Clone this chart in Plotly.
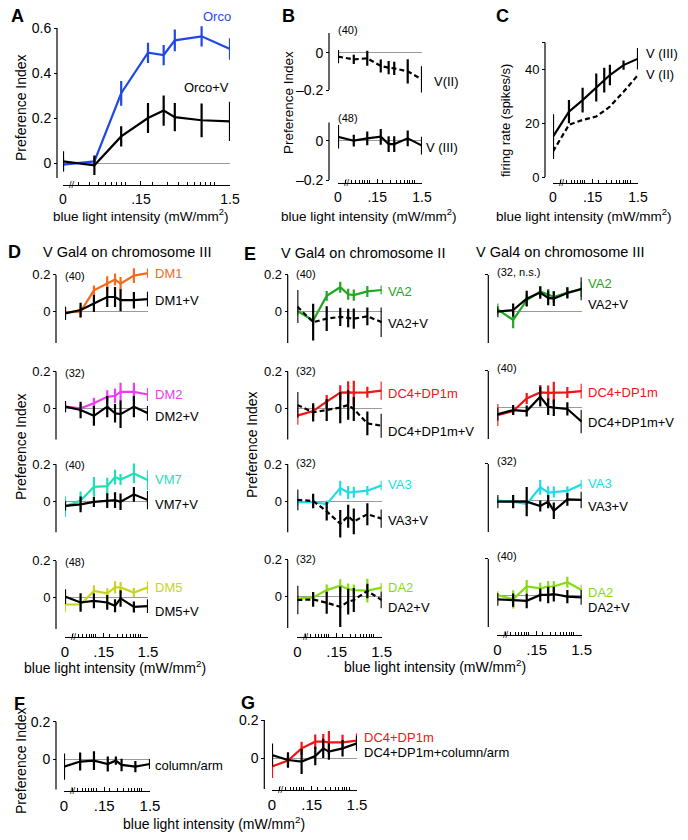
import math
import plotly.graph_objects as go

# ---------------- data ----------------
INTENSITY = [0, 0.045, 0.09, 0.18, 0.27, 0.36, 0.72, 1.5]   # mW/mm^2
ZERO_POS = 0.02   # where intensity 0 is drawn on the broken log axis

# A
ORCO_PI = [-0.007, 0.007, 0.31, 0.49, 0.48, 0.545, 0.563, 0.507]
ORCO_SEM = [0.03, 0.015, 0.055, 0.045, 0.045, 0.048, 0.045, 0.048]
ORCO_V_PI = [0.007, -0.01, 0.118, 0.2, 0.233, 0.204, 0.19, 0.185]
ORCO_V_SEM = [0.045, 0.043, 0.045, 0.067, 0.067, 0.063, 0.075, 0.087]
# B
V2_PI = [-0.021, -0.036, -0.03, -0.071, -0.08, -0.084, -0.1, -0.143]
V2_SEM = [0.035, 0.025, 0.04, 0.035, 0.035, 0.035, 0.065, 0.07]
V3_PI = [0.02, 0.0, 0.012, 0.02, -0.017, -0.017, 0.012, -0.025]
V3_SEM = [0.06, 0.03, 0.035, 0.04, 0.04, 0.04, 0.04, 0.045]
# C
V3_RATE = [15, 24.3, 28.6, 33.3, 36, 37.9, 41.6, 44]
V3_RATE_SEM = [8.3, 4.3, 4.6, 5.2, 4.6, 3.8, 1.7, 4]
V2_RATE = [9.5, 19.4, 21.2, 22.5, 24.6, 26.2, 31.7, 37.9]
# D
DM1_PI = [-0.004, 0.0, 0.116, 0.152, 0.175, 0.152, 0.196, 0.21]
DM1_SEM = [0.03, 0.03, 0.027, 0.04, 0.033, 0.036, 0.04, 0.025]
DM1_V_PI = [-0.009, 0.009, 0.045, 0.08, 0.08, 0.0625, 0.0625, 0.068]
DM1_V_SEM = [0.036, 0.04, 0.046, 0.054, 0.054, 0.06, 0.045, 0.04]
DM2_PI = [0.009, 0.0, 0.027, 0.0625, 0.068, 0.089, 0.089, 0.075]
DM2_SEM = [0.03, 0.02, 0.03, 0.036, 0.04, 0.05, 0.05, 0.036]
DM2_V_PI = [0.009, -0.009, -0.041, 0.009, -0.027, -0.032, 0.009, -0.027]
DM2_V_SEM = [0.03, 0.045, 0.054, 0.058, 0.05, 0.075, 0.058, 0.04]
VM7_PI = [-0.03, 0.002, 0.077, 0.081, 0.13, 0.117, 0.15, 0.113]
VM7_SEM = [0.055, 0.05, 0.054, 0.045, 0.04, 0.03, 0.054, 0.054]
VM7_V_PI = [-0.027, -0.018, -0.005, 0.002, 0.005, -0.004, 0.036, 0.005]
VM7_V_SEM = [0.025, 0.043, 0.027, 0.04, 0.043, 0.045, 0.04, 0.05]
DM5_PI = [-0.037, -0.037, 0.037, 0.024, 0.056, 0.056, 0.028, 0.056]
DM5_SEM = [0.04, 0.03, 0.03, 0.028, 0.033, 0.03, 0.025, 0.033]
DM5_V_PI = [0.006, -0.026, -0.017, -0.026, -0.044, -0.004, -0.05, -0.046]
DM5_V_SEM = [0.04, 0.05, 0.04, 0.04, 0.035, 0.045, 0.03, 0.037]
# E, V Gal4 on chromosome II
VA2_II_PI = [0.004, -0.048, 0.086, 0.133, 0.095, 0.09, 0.11, 0.118]
VA2_II_SEM = [0.02, 0.02, 0.027, 0.03, 0.03, 0.03, 0.03, 0.025]
VA2_II_V_PI = [0.028, -0.057, -0.038, -0.028, -0.034, -0.038, -0.025, -0.057]
VA2_II_V_SEM = [0.09, 0.1, 0.067, 0.05, 0.05, 0.055, 0.048, 0.08]
DC4_II_PI = [-0.04, -0.015, 0.036, 0.085, 0.087, 0.085, 0.087, 0.096]
DC4_II_SEM = [0.05, 0.03, 0.036, 0.04, 0.06, 0.065, 0.03, 0.05]
DC4_II_V_PI = [0.018, -0.022, -0.009, 0.004, 0.018, -0.004, -0.082, -0.095]
DC4_II_V_SEM = [0.07, 0.05, 0.06, 0.085, 0.08, 0.065, 0.065, 0.065]
VA3_II_PI = [-0.006, -0.006, -0.017, 0.07, 0.046, 0.048, 0.056, 0.085]
VA3_II_SEM = [0.02, 0.02, 0.02, 0.04, 0.035, 0.03, 0.025, 0.025]
VA3_II_V_PI = [0.006, 0.0, -0.056, -0.124, -0.083, -0.111, -0.072, -0.096]
VA3_II_V_SEM = [0.056, 0.04, 0.05, 0.075, 0.063, 0.07, 0.06, 0.05]
DA2_II_PI = [-0.011, -0.004, 0.036, 0.06, 0.042, 0.036, 0.033, 0.049]
DA2_II_SEM = [0.02, 0.02, 0.03, 0.035, 0.03, 0.03, 0.065, 0.025]
DA2_II_V_PI = [-0.018, -0.015, -0.033, -0.055, -0.027, -0.018, 0.031, -0.018]
DA2_II_V_SEM = [0.077, 0.04, 0.06, 0.11, 0.07, 0.065, 0.04, 0.045]
# E, V Gal4 on chromosome III
VA2_III_PI = [0.014, -0.045, 0.0625, 0.11, 0.093, 0.08, 0.104, 0.121]
VA2_III_SEM = [0.03, 0.045, 0.03, 0.03, 0.03, 0.03, 0.03, 0.04]
VA2_III_V_PI = [0.0, 0.009, 0.071, 0.104, 0.075, 0.071, 0.102, 0.125]
VA2_III_V_SEM = [0.03, 0.035, 0.043, 0.033, 0.04, 0.04, 0.03, 0.0625]
DC4_III_PI = [-0.04, -0.018, 0.05, 0.083, 0.081, 0.081, 0.083, 0.09]
DC4_III_SEM = [0.06, 0.02, 0.03, 0.04, 0.04, 0.06, 0.03, 0.04]
DC4_III_V_PI = [-0.036, -0.013, -0.018, 0.06, 0.005, 0.0, -0.007, -0.076]
DC4_III_V_SEM = [0.035, 0.027, 0.03, 0.054, 0.045, 0.045, 0.036, 0.063]
VA3_III_PI = [0.0, -0.005, -0.018, 0.073, 0.044, 0.047, 0.053, 0.089]
VA3_III_SEM = [0.02, 0.02, 0.02, 0.04, 0.035, 0.03, 0.025, 0.025]
VA3_III_V_PI = [-0.005, -0.005, -0.005, -0.029, -0.005, -0.055, 0.007, 0.004]
VA3_III_V_SEM = [0.036, 0.036, 0.08, 0.03, 0.036, 0.045, 0.035, 0.045]
DA2_III_PI = [0.004, -0.02, 0.05, 0.04, 0.05, 0.05, 0.073, 0.031]
DA2_III_SEM = [0.02, 0.05, 0.035, 0.03, 0.03, 0.03, 0.03, 0.03]
DA2_III_V_PI = [-0.02, -0.024, -0.028, 0.004, 0.004, 0.009, -0.005, -0.009]
DA2_III_V_SEM = [0.035, 0.036, 0.04, 0.035, 0.045, 0.04, 0.036, 0.04]
# F
COLARM_PI = [-0.039, -0.012, -0.007, -0.025, -0.007, -0.03, -0.039, -0.025]
COLARM_SEM = [0.07, 0.048, 0.05, 0.04, 0.022, 0.033, 0.03, 0.027]
# G
DC4_G_PI = [-0.043, -0.012, 0.052, 0.087, 0.087, 0.083, 0.083, 0.092]
DC4_G_SEM = [0.06, 0.03, 0.035, 0.037, 0.04, 0.06, 0.04, 0.037]
DC4_COLARM_PI = [0.017, -0.009, -0.017, 0.012, 0.052, 0.035, 0.052, 0.078]
DC4_COLARM_SEM = [0.06, 0.04, 0.065, 0.048, 0.05, 0.043, 0.043, 0.04]

X_TICKS = [ZERO_POS, 0.15, 1.5]
X_TICKTEXT = ["0", ".15", "1.5"]
X_MINOR = [0.03, 0.04, 0.05, 0.06, 0.07, 0.08, 0.09, 0.1,
           0.2, 0.3, 0.4, 0.5, 0.6, 0.7, 0.8, 0.9, 1.0]

# ---------------- style ----------------
W, H = 688, 840
FONT = "Liberation Sans, Arial, sans-serif"
BLUE = "#1f48e6"
ORANGE = "#f26a1c"
MAGENTA = "#ee3cee"
TURQ = "#1fe0b4"
YELLOW = "#c9d41e"
GREEN = "#22a722"
RED = "#f01414"
CYAN = "#22dbe6"
LIME = "#86dc12"
BLACK = "#000000"

XPOS = [ZERO_POS if v == 0 else v for v in INTENSITY]

fig = go.Figure()
axes = {}
shapes = []
annotations = []
count = [0]


def xp(px):
    return px / W


def yp(py):
    return 1 - py / H


def ann(text, x, y, size=13, color=BLACK, xanchor="left", bold=False, angle=0):
    if bold:
        text = "<b>" + text + "</b>"
    annotations.append(dict(text=text, x=xp(x), y=yp(y), xref="paper", yref="paper",
                            xanchor=xanchor, yanchor="middle", showarrow=False,
                            borderpad=0, textangle=angle,
                            font=dict(size=size, color=color, family=FONT)))


def panel(yaxis_px, x0, x1, zero_px, ppu, line_lo, line_hi, rng, yticks, yticktext,
          xaxis_px=None, yzero=True, ytsize=13, xtsize=15, yminor=None):
    count[0] += 1
    i = count[0]
    s = "" if i == 1 else str(i)
    lo, hi = rng
    top = zero_px - hi * ppu
    bot = zero_px - lo * ppu
    xa = dict(type="log", range=[math.log10(ZERO_POS), math.log10(1.5)],
              domain=[xp(x0), xp(x1)], anchor="free",
              position=yp(xaxis_px) if xaxis_px is not None else 0,
              visible=xaxis_px is not None, showgrid=False, zeroline=False,
              showline=True, linecolor=BLACK, linewidth=1.2,
              ticks="inside", ticklen=4, tickwidth=1, tickcolor=BLACK,
              tickmode="array", tickvals=X_TICKS, ticktext=X_TICKTEXT,
              ticklabelstandoff=1,
              minor=dict(tickmode="array", tickvals=X_MINOR, ticks="inside",
                         ticklen=3, tickwidth=1, tickcolor=BLACK, showgrid=False),
              tickfont=dict(size=xtsize, color=BLACK, family=FONT), automargin=False)
    ya = dict(range=[lo, hi], domain=[yp(bot), yp(top)], anchor="free",
              position=xp(yaxis_px), showline=False, showgrid=False,
              zeroline=yzero, zerolinecolor="#9a9a9a", zerolinewidth=1,
              ticks="outside", ticklen=3, tickwidth=1, tickcolor=BLACK,
              tickmode="array", tickvals=yticks,
              tickfont=dict(size=ytsize, color=BLACK, family=FONT), automargin=False)
    if yticktext is None:
        ya["showticklabels"] = False
    else:
        ya["ticktext"] = yticktext
    if yminor is not None:
        ya["minor"] = dict(tickmode="array", tickvals=yminor, ticks="outside",
                           ticklen=3, tickwidth=1, tickcolor=BLACK, showgrid=False)
    axes["xaxis" + s] = xa
    axes["yaxis" + s] = ya
    shapes.append(dict(type="line", xref="paper", yref="y" + s,
                       x0=xp(yaxis_px), x1=xp(yaxis_px), y0=line_lo, y1=line_hi,
                       line=dict(color=BLACK, width=1.2)))
    if xaxis_px is not None:
        ann("//", x0 + 9, xaxis_px, size=9, xanchor="center")
    return "x" + s, "y" + s


def series(ax, mean, sem, color, dash="solid"):
    xa, ya = ax
    err = None
    if sem is not None:
        err = dict(type="data", array=sem, visible=True, color=color, thickness=2.2, width=0)
    fig.add_trace(go.Scatter(x=XPOS, y=mean, mode="lines", xaxis=xa, yaxis=ya,
                             line=dict(color=color, width=2.2, dash=dash),
                             error_y=err, cliponaxis=False, showlegend=False,
                             hoverinfo="skip"))


DASH = "5px,3px"
PI_TICKS = [0, 0.2]
PI_TEXT = ["0", "0.2"]
RNG = [-0.24, 0.26]

# ---- A ----
a = panel(57, 63, 230, 163, 225, -0.067, 0.6, [-0.1, 0.65], [0, 0.2, 0.4, 0.6],
          ["0", "0.2", "0.4", "0.6"], xaxis_px=185, ytsize=14, xtsize=14)
series(a, ORCO_PI, ORCO_SEM, BLUE)
series(a, ORCO_V_PI, ORCO_V_SEM, BLACK)
ann("A", 10, 16, size=18, bold=True)
ann("Orco", 202, 16, color=BLUE)
ann("Orco+V", 183, 88)
ann("Preference Index", 21, 108, size=14, angle=-90, xanchor="center")
ann("blue light intensity (mW/mm<sup>2</sup>)", 52, 215, size=13.5)

# ---- B ----
b1 = panel(329, 338, 422, 52.7, 186.5, -0.2, 0.106, [-0.25, 0.13], [-0.2, 0],
           ["\u20130.2", "0"], ytsize=14, xtsize=14)
series(b1, V2_PI, V2_SEM, BLACK, DASH)
b2 = panel(329, 338, 422, 140.7, 196.5, -0.2, 0.092, [-0.25, 0.12], [-0.2, 0],
           ["\u20130.2", "0"], xaxis_px=183, ytsize=14, xtsize=14)
series(b2, V3_PI, V3_SEM, BLACK)
ann("B", 281, 16, size=18, bold=True)
ann("(40)", 337, 30, size=11)
ann("(48)", 337, 118, size=11)
ann("V(II)", 433, 82)
ann("V (III)", 425, 147)
ann("Preference Index", 288, 103, size=13.5, angle=-90, xanchor="center")
ann("blue light intensity (mW/mm<sup>2</sup>)", 280, 215, size=13.5)

# ---- C ----
c = panel(545, 553, 638, 177, 2.69, 0, 50, [-3, 53], [0, 20, 40],
          ["0", "20", "40"], xaxis_px=183, yzero=False, ytsize=13, xtsize=14, yminor=[50])
series(c, V2_RATE, None, BLACK, DASH)
series(c, V3_RATE, V3_RATE_SEM, BLACK)
ann("C", 495, 16, size=18, bold=True)
ann("V (III)", 645, 53)
ann("V (II)", 645, 74)
ann("firing rate (spikes/s)", 506, 121, size=13, angle=-90, xanchor="center")
ann("blue light intensity (mW/mm<sup>2</sup>)", 495, 215, size=13.5)

# ---- D ----
PPU = 184
D_PANELS = [
    (311.7, DM1_PI, DM1_SEM, DM1_V_PI, DM1_V_SEM, ORANGE, "DM1", "(40)", 274, 300, None),
    (408.3, DM2_PI, DM2_SEM, DM2_V_PI, DM2_V_SEM, MAGENTA, "DM2", "(32)", 394, 416, None),
    (501.0, VM7_PI, VM7_SEM, VM7_V_PI, VM7_V_SEM, TURQ, "VM7", "(40)", 479, 504, None),
    (597.7, DM5_PI, DM5_SEM, DM5_V_PI, DM5_V_SEM, YELLOW, "DM5", "(48)", 587, 611, 636.7),
]
for z, m, se, mv, sv, col, name, n, ly1, ly2, xpx in D_PANELS:
    ax = panel(56, 65, 148, z, PPU, -0.17, 0.2, RNG, PI_TICKS, PI_TEXT, xaxis_px=xpx)
    series(ax, m, se, col)
    series(ax, mv, sv, BLACK)
    ann(n, 64, z - 0.2 * PPU + 1, size=11)
    ann(name, 154, ly1, color=col)
    ann(name + "+V", 154, ly2)
ann("D", 7, 252, size=18, bold=True)
ann("V Gal4 on chromosome III", 42, 252, size=14.5)
ann("Preference Index", 21, 447, size=14, angle=-90, xanchor="center")
ann("blue light intensity (mW/mm<sup>2</sup>)", 23, 667, size=14)

# ---- E (chromosome II) ----
E1_PANELS = [
    (311.7, VA2_II_PI, VA2_II_SEM, VA2_II_V_PI, VA2_II_V_SEM, GREEN, "VA2", "(40)", 291, 323, None),
    (408.3, DC4_II_PI, DC4_II_SEM, DC4_II_V_PI, DC4_II_V_SEM, RED, "DC4+DP1m", "(32)", 393, 432, None),
    (501.0, VA3_II_PI, VA3_II_SEM, VA3_II_V_PI, VA3_II_V_SEM, CYAN, "VA3", "(32)", 485, 520, None),
    (596.7, DA2_II_PI, DA2_II_SEM, DA2_II_V_PI, DA2_II_V_SEM, LIME, "DA2", "(32)", 587, 607, 636.7),
]
for z, m, se, mv, sv, col, name, n, ly1, ly2, xpx in E1_PANELS:
    ax = panel(287.7, 297.3, 381.7, z, PPU, -0.17, 0.2, RNG, PI_TICKS, PI_TEXT, xaxis_px=xpx)
    series(ax, m, se, col)
    series(ax, mv, sv, BLACK, DASH)
    ann(n, 295, z - 0.2 * PPU - 1, size=11)
    ann(name, 387, ly1, color=col)
    ann(name + "+V", 387, ly2)
ann("E", 243, 254, size=18, bold=True)
ann("V Gal4 on chromosome II", 280, 253, size=14.5)
ann("Preference Index", 252, 445, size=14, angle=-90, xanchor="center")
ann("blue light intensity (mW/mm<sup>2</sup>)", 343, 666, size=14)

# ---- E (chromosome III) ----
E2_PANELS = [
    (311.7, VA2_III_PI, VA2_III_SEM, VA2_III_V_PI, VA2_III_V_SEM, GREEN, "VA2", "(32, n.s.)", 283, 304, None),
    (407.7, DC4_III_PI, DC4_III_SEM, DC4_III_V_PI, DC4_III_V_SEM, RED, "DC4+DP1m", "(40)", 392, 422, None),
    (500.7, VA3_III_PI, VA3_III_SEM, VA3_III_V_PI, VA3_III_V_SEM, CYAN, "VA3", "(32)", 484, 506, None),
    (595.7, DA2_III_PI, DA2_III_SEM, DA2_III_V_PI, DA2_III_V_SEM, LIME, "DA2", "(40)", 592, 607, 635),
]
for z, m, se, mv, sv, col, name, n, ly1, ly2, xpx in E2_PANELS:
    ax = panel(488.3, 497.3, 581.7, z, PPU, -0.17, 0.2, RNG, [0.2], None, xaxis_px=xpx)
    series(ax, m, se, col)
    series(ax, mv, sv, BLACK)
    ann(n, 496, z - 0.2 * PPU - 3, size=11)
    ann(name, 587, ly1, color=col)
    ann(name + "+V", 587, ly2)
ann("V Gal4 on chromosome III", 475, 252, size=14.5)

# ---- F ----
f = panel(56, 64, 150, 759.3, 188, -0.16, 0.2, RNG, PI_TICKS, PI_TEXT, xaxis_px=790.7, ytsize=14)
series(f, COLARM_PI, COLARM_SEM, BLACK)
ann("F", 13, 704, size=18, bold=True)
ann("column/arm", 154, 765)
ann("Preference Index", 21, 761, size=14, angle=-90, xanchor="center")
ann("blue light intensity (mW/mm<sup>2</sup>)", 122, 823, size=14)

# ---- G ----
g = panel(264.3, 272, 357, 758.3, 191.5, -0.16, 0.2, RNG, PI_TICKS, PI_TEXT, xaxis_px=790, ytsize=14)
series(g, DC4_G_PI, DC4_G_SEM, RED)
series(g, DC4_COLARM_PI, DC4_COLARM_SEM, BLACK)
ann("G", 240, 703, size=18, bold=True)
ann("DC4+DP1m", 363, 737, color=RED)
ann("DC4+DP1m+column/arm", 363, 752)

fig.update_layout(
    width=W, height=H, margin=dict(l=0, r=0, t=0, b=0, pad=0),
    template="none", paper_bgcolor="white", plot_bgcolor="rgba(0,0,0,0)",
    font=dict(family=FONT, color=BLACK), showlegend=False,
    shapes=shapes, annotations=annotations, **axes,
)
fig.write_html("out.html", config={"displayModeBar": False, "staticPlot": True},
               post_script="document.body.style.margin='0px';document.body.style.padding='0px';")
